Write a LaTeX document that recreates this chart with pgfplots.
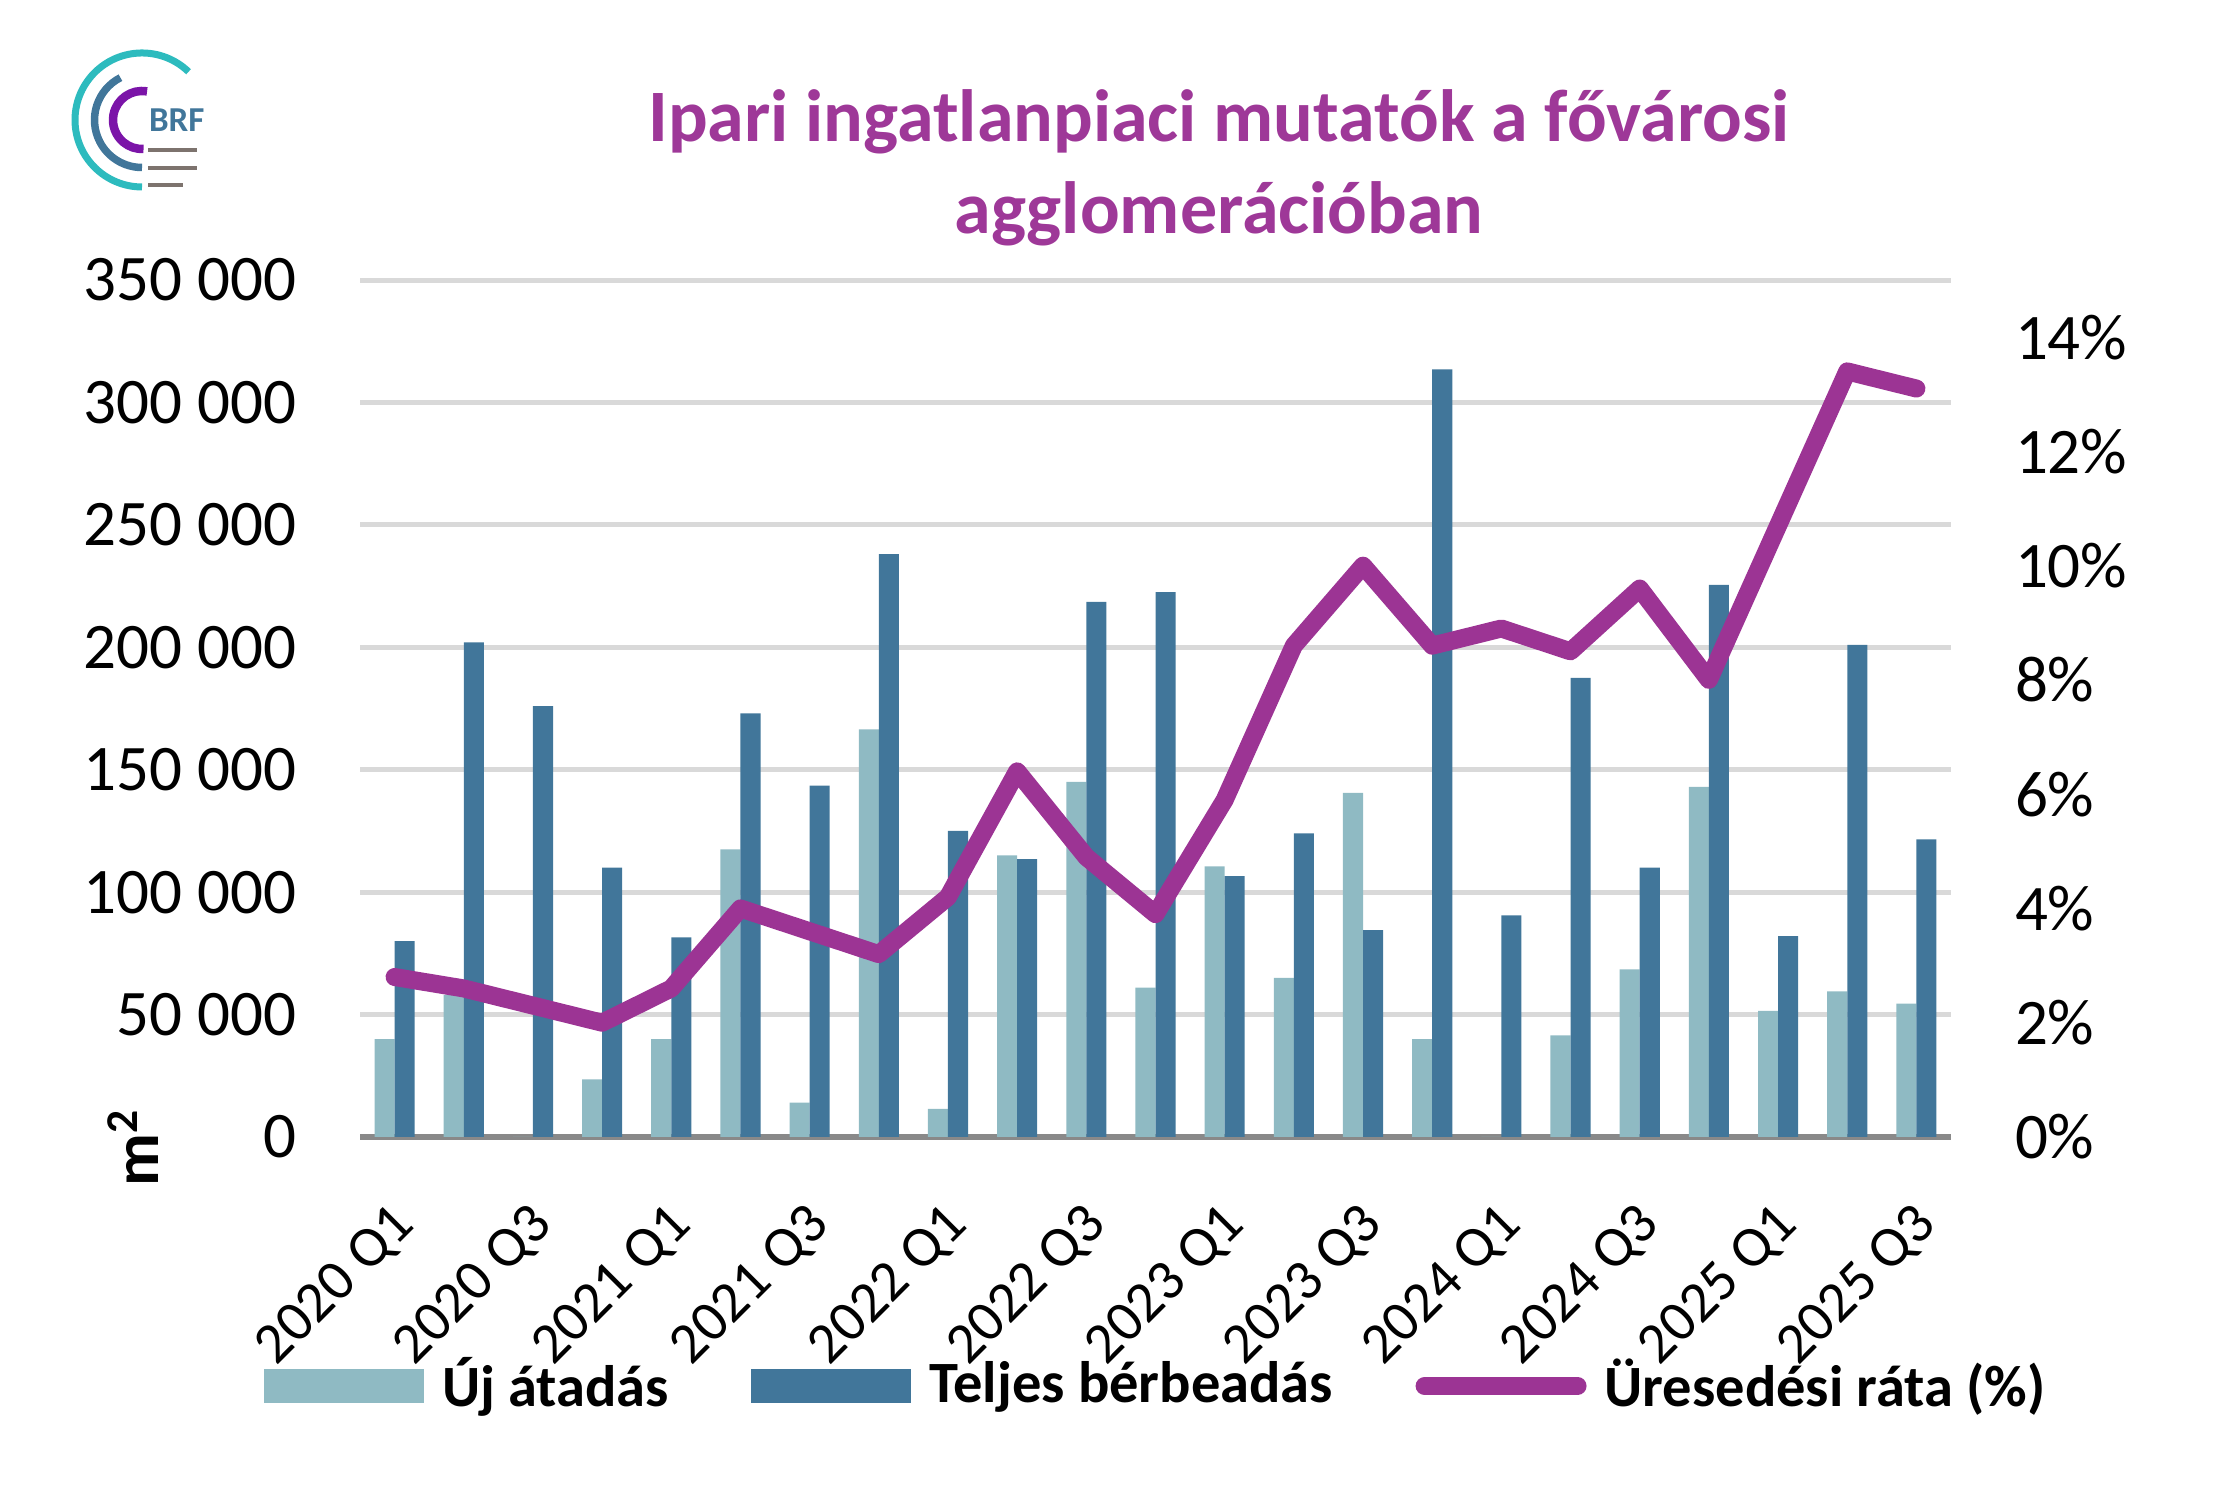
\documentclass[border=0pt]{standalone}
\usepackage{fontspec}
\setmainfont{Carlito}
\usepackage{pgfplots}
\pgfplotsset{compat=1.18}
\definecolor{lightbar}{RGB}{143,186,195}
\definecolor{darkbar}{RGB}{65,118,154}
\definecolor{rateline}{RGB}{156,52,148}
\definecolor{titlecol}{RGB}{158,56,152}
\definecolor{gridgray}{RGB}{217,217,217}
\definecolor{axisgray}{RGB}{137,137,137}
\definecolor{logoteal}{RGB}{45,187,190}
\definecolor{logopurple}{RGB}{123,20,168}
\definecolor{logogray}{RGB}{125,115,110}

\begin{document}
\begin{tikzpicture}
\useasboundingbox (0,0) rectangle (444.4pt,299.6pt);
% logo
\draw[logoteal, line width=1.4pt] (37.71pt,285.24pt) arc[start angle=46, end angle=270, radius=13.4pt];
\draw[darkbar, line width=1.5pt] (24.09pt,284.06pt) arc[start angle=117, end angle=270, radius=9.5pt];
\draw[logopurple, line width=1.7pt] (29.41pt,281.31pt) arc[start angle=80, end angle=273, radius=5.8pt];
\node[anchor=base west, inner sep=0pt, text=darkbar, font=\bfseries\fontsize{7}{8}\selectfont] at (29.6pt,273.2pt) {BRF};
\draw[logogray, line width=0.7pt] (29.6pt,269.6pt) -- (39.4pt,269.6pt);
\draw[logogray, line width=0.7pt] (29.6pt,266pt) -- (39.4pt,266pt);
\draw[logogray, line width=0.7pt] (29.6pt,262.6pt) -- (36.6pt,262.6pt);
% title
\node[anchor=base, inner sep=0pt, text=titlecol, font=\bfseries\fontsize{14.8}{18}\selectfont] at (243.8pt,271.2pt) {Ipari ingatlanpiaci mutatók a fővárosi};
\node[anchor=base, inner sep=0pt, text=titlecol, font=\bfseries\fontsize{14.8}{18}\selectfont] at (243.8pt,252.8pt) {agglomerációban};
% unit label
\node[rotate=90, inner sep=0pt, font=\bfseries\fontsize{13}{15}\selectfont] at (26.6pt,70.2pt) {m\textsuperscript{2}};

\begin{axis}[
  at={(72pt,72.2pt)}, anchor=south west, scale only axis,
  width=318.2pt, height=171.4pt,
  xmin=-0.5, xmax=22.5, ymin=0, ymax=350000,
  scaled y ticks=false,
  axis x line*=bottom, axis y line*=left,
  x axis line style={draw=axisgray, line width=1.2pt, -},
  y axis line style={draw=none},
  major tick length=0pt,
  ymajorgrids, grid style={draw=gridgray, line width=1pt},
  ytick={0,50000,...,350000},
  yticklabels={0,50 000,100 000,150 000,200 000,250 000,300 000,350 000},
  xtick={0,2,...,22},
  xticklabels={2020 Q1,2020 Q3,2021 Q1,2021 Q3,2022 Q1,2022 Q3,2023 Q1,2023 Q3,2024 Q1,2024 Q3,2025 Q1,2025 Q3},
  /pgf/number format/assume math mode=true,
  yticklabel style={font=\fontsize{13}{15}\selectfont, anchor=east, inner sep=0pt, xshift=-12.6pt},
  xticklabel style={font=\fontsize{11.5}{13}\selectfont, inner sep=0pt, xshift=-1pt, yshift=-12.4pt, rotate=45, anchor=north east},
  ybar=0pt, bar width=0.29,
]
\addplot[fill=lightbar, draw=none, bar shift=-0.145] coordinates {
(0,40000) (1,58000) (2,0) (3,23500) (4,40000) (5,117500) (6,14000) (7,166500)
(8,11500) (9,115000) (10,145000) (11,61000) (12,110500) (13,65000) (14,140500)
(15,40000) (16,0) (17,41500) (18,68500) (19,143000) (20,51500) (21,59500) (22,54500)};
\addplot[fill=darkbar, draw=none, bar shift=0.145] coordinates {
(0,80000) (1,202000) (2,176000) (3,110000) (4,81500) (5,173000) (6,143500) (7,238000)
(8,125000) (9,113500) (10,218500) (11,222500) (12,106500) (13,124000) (14,84500)
(15,313500) (16,90500) (17,187500) (18,110000) (19,225500) (20,82000) (21,201000) (22,121500)};
\end{axis}

\begin{axis}[
  at={(72pt,72.2pt)}, anchor=south west, scale only axis,
  width=318.2pt, height=171.4pt,
  xmin=-0.5, xmax=22.5, ymin=0, ymax=15,
  axis y line*=right, axis x line=none,
  y axis line style={draw=none},
  major tick length=0pt,
  ytick={0,2,...,14},
  yticklabels={0\%,2\%,4\%,6\%,8\%,10\%,12\%,14\%},
  /pgf/number format/assume math mode=true,
  yticklabel style={font=\fontsize{13}{15}\selectfont, anchor=west, inner sep=0pt, xshift=12.6pt},
  legend columns=3,
  legend style={at={(-0.0603,-0.2905)}, anchor=west, draw=none, fill=none,
    inner sep=0pt, outer sep=0pt,
    font=\bfseries\fontsize{11.7}{13}\selectfont,
    nodes={inner sep=0pt},
    /tikz/every odd column/.append style={column sep=3.6pt},
    /tikz/every even column/.append style={column sep=16.5pt}},
  legend cell align=left,
]
\addlegendimage{legend image code/.code={\fill[lightbar] (0pt,-3.2pt) rectangle (31.6pt,3.2pt);}}
\addlegendentry{Új átadás}
\addlegendimage{legend image code/.code={\fill[darkbar] (0pt,-3.2pt) rectangle (31.6pt,3.2pt);}}
\addlegendentry{Teljes bérbeadás}
\addplot[rateline, line width=3.6pt, line join=round, line cap=round,
  legend image code/.code={\draw[rateline, line width=3.6pt, line cap=round] (1.8pt,0pt) -- (32.4pt,0pt);}]
coordinates {
(0,2.8) (1,2.6) (2,2.3) (3,2.0) (4,2.6) (5,4.0) (6,3.6) (7,3.2)
(8,4.2) (9,6.4) (10,4.9) (11,3.9) (12,5.9) (13,8.6) (14,10.0)
(15,8.6) (16,8.9) (17,8.5) (18,9.6) (19,8.0) (20,10.7) (21,13.4) (22,13.1)};
\addlegendentry{Üresedési ráta (\%)}
\end{axis}
\end{tikzpicture}
\end{document}
